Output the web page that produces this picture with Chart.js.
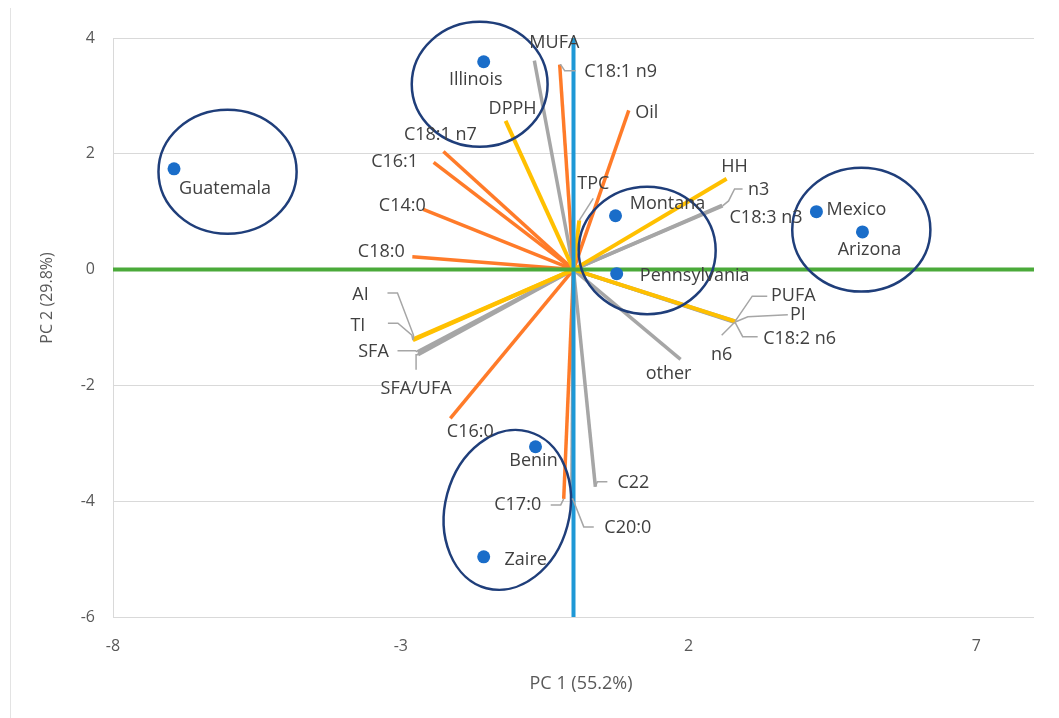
<!DOCTYPE html>
<html>
<head>
<meta charset="utf-8">
<script src="https://cdn.jsdelivr.net/npm/chart.js@4.4.0/dist/chart.umd.min.js"></script>
<style>
  html, body { margin: 0; padding: 0; background: #fff; }
  #wrap { width: 1059px; height: 718px; }
</style>
</head>
<body>
<div id="wrap"><canvas id="pcaChart" width="1059" height="718"></canvas></div>
<script>
// PCA biplot - sample scores and variable loadings

// axes
const xMin = -8, xMax = 8;
const yMin = -6, yMax = 4;
const xTicks = [-8, -3, 2, 7];
const yTicks = [-6, -4, -2, 0, 2, 4];

// sample scores
const sampleNames = ['Guatemala', 'Illinois', 'Montana', 'Pennsylvania', 'Mexico', 'Arizona', 'Benin', 'Zaire'];
const sampleX = [-6.94, -1.56, 0.73, 0.75, 4.22, 5.02, -0.66, -1.56];
const sampleY = [1.74, 3.59, 0.93, -0.07, 1.00, 0.65, -3.06, -4.96];

// loadings (vectors from origin)
const loadingNames = ['MUFA', 'C18:1 n9', 'Oil', 'DPPH', 'C18:1 n7', 'C16:1', 'C14:0', 'C18:0',
  'C16:0', 'C17:0', 'HH', 'TPC', 'AI', 'TI', 'PI', 'SFA', 'SFA/UFA', 'other', 'C22', 'C20:0',
  'PUFA', 'C18:2 n6', 'n6', 'n3', 'C18:3 n3'];
const loadingX = [-0.68, -0.24, 0.96, -1.18, -2.26, -2.43, -2.61, -2.80,
  -2.14, -0.17, 2.66, 0.10, -2.78, -2.79, 2.82, -2.71, -2.70, 1.86, 0.38, -0.03,
  2.81, 2.80, 2.80, 2.59, 2.58];
const loadingY = [3.61, 3.54, 2.75, 2.57, 2.04, 1.85, 1.04, 0.22,
  -2.57, -3.96, 1.57, 0.85, -1.20, -1.22, -0.90, -1.42, -1.47, -1.55, -3.75, -3.96,
  -0.89, -0.90, -0.91, 1.10, 1.11];
const loadingGroup = ['g', 'o', 'o', 'y', 'o', 'o', 'o', 'o',
  'o', 'o', 'y', 'y', 'y', 'y', 'y', 'g', 'g', 'g', 'g', 'g',
  'g', 'g', 'g', 'g', 'g'];

// group ellipses (centre and radii in axis units, rotation in degrees)
const groupEllipses = [
  { cx: -6.01, cy: 1.69, rx: 1.20, ry: 1.07, rot: 0 },
  { cx: -1.63, cy: 3.20, rx: 1.18, ry: 1.08, rot: 0 },
  { cx: 1.28, cy: 0.33, rx: 1.19, ry: 1.10, rot: 0 },
  { cx: 5.00, cy: 0.69, rx: 1.20, ry: 1.07, rot: 0 },
  { cx: -1.15, cy: -4.15, rx: 1.08, ry: 1.40, rot: 15 }
];

// label placement (pixel offsets from the mark)
const sampleLabelOffset = {
  'Guatemala': [51, 20], 'Illinois': [-8, 18], 'Montana': [52, -12], 'Pennsylvania': [78, 2],
  'Mexico': [40, -2], 'Arizona': [7, 18], 'Benin': [-2, 14], 'Zaire': [42, 3]
};
const loadingLabelOffset = {
  'MUFA': [20, -18], 'C18:1 n9': [61, 7], 'Oil': [18, 2], 'DPPH': [7, -12], 'C18:1 n7': [-3, -17],
  'C16:1': [-39, -1], 'C14:0': [-21, -4], 'C18:0': [-31, -5], 'C16:0': [20, 13], 'C17:0': [-46, 6],
  'HH': [8, -12], 'TPC': [14, -37], 'AI': [-53, -44], 'TI': [-55, -14], 'PI': [62, -7],
  'SFA': [-44, 0], 'SFA/UFA': [-2, 34], 'other': [-12, 15], 'C22': [38, -4], 'C20:0': [56, 29],
  'PUFA': [58, -25], 'C18:2 n6': [65, 17], 'n6': [-13, 33], 'n3': [36, -16], 'C18:3 n3': [44, 13]
};
const leaderLines = {
  'C18:1 n9': [[1, 0], [5, 6], [16, 6]],
  'C17:0': [[-3, 6], [-13, 6]],
  'TPC': [[14, -22]],
  'AI': [[0, -4], [-16, -46], [-26, -46]],
  'TI': [[-1, -5], [-15, -17], [-25, -17]],
  'PI': [[12, -5], [52, -7]],
  'SFA': [[-2, -1], [-20, -1]],
  'SFA/UFA': [[-2, 0], [-2, 15]],
  'C22': [[2, -5], [12, -5]],
  'C20:0': [[1, 0], [12, 28], [22, 28]],
  'PUFA': [[17, -25], [32, -25]],
  'C18:2 n6': [[8, 15], [23, 15]],
  'n6': [[-13, 13]],
  'n3': [[6, -5], [12, -17], [20, -17]]
};

const groupColor = { o: '#FF7B29', y: '#FFC000', g: '#A6A6A6' };
const groupOrder = { y: 3, o: 4, g: 5 };
const labelFont = '18px "Open Sans", sans-serif';

const datasets = [];
datasets.push({
  label: 'samples',
  data: sampleX.map((v, i) => ({ x: v, y: sampleY[i] })),
  showLine: false,
  pointRadius: 6.5,
  pointBackgroundColor: '#1A6DC9',
  pointBorderWidth: 0,
  order: 0
});
datasets.push({
  label: 'pc1 axis',
  data: [{ x: xMin, y: 0 }, { x: xMax, y: 0 }],
  showLine: true, pointRadius: 0, borderColor: '#4BAA3A', borderWidth: 4, order: 1
});
datasets.push({
  label: 'pc2 axis',
  data: [{ x: 0, y: yMin }, { x: 0, y: yMax }],
  showLine: true, pointRadius: 0, borderColor: '#1E98D6', borderWidth: 4, order: 2
});
loadingNames.forEach((name, i) => {
  const g = loadingGroup[i];
  datasets.push({
    label: name,
    data: [{ x: 0, y: 0 }, { x: loadingX[i], y: loadingY[i] }],
    showLine: true,
    pointRadius: 0,
    borderColor: groupColor[g],
    borderWidth: g === 'y' ? 4 : 3.5,
    order: groupOrder[g]
  });
});

const overlayPlugin = {
  id: 'overlay',
  beforeDraw(chart) {
    const ctx = chart.ctx;
    ctx.save();
    ctx.fillStyle = '#fff';
    ctx.fillRect(0, 0, chart.width, chart.height);
    ctx.strokeStyle = '#E3E3E3';
    ctx.lineWidth = 1;
    ctx.beginPath();
    ctx.moveTo(10.5, 8);
    ctx.lineTo(10.5, chart.height);
    ctx.stroke();
    ctx.restore();
  },
  afterDatasetsDraw(chart) {
    const ctx = chart.ctx;
    const xs = chart.scales.x, ys = chart.scales.y;
    const pxUnitX = Math.abs(xs.getPixelForValue(1) - xs.getPixelForValue(0));
    const pxUnitY = Math.abs(ys.getPixelForValue(1) - ys.getPixelForValue(0));
    ctx.save();

    // ellipses
    ctx.strokeStyle = '#1F3E7A';
    ctx.lineWidth = 2.5;
    groupEllipses.forEach(e => {
      ctx.beginPath();
      ctx.ellipse(xs.getPixelForValue(e.cx), ys.getPixelForValue(e.cy),
        e.rx * pxUnitX, e.ry * pxUnitY, e.rot * Math.PI / 180, 0, Math.PI * 2);
      ctx.stroke();
    });

    // leader lines
    ctx.strokeStyle = '#A6A6A6';
    ctx.lineWidth = 1.5;
    loadingNames.forEach((name, i) => {
      const pts = leaderLines[name];
      if (!pts) return;
      const px = xs.getPixelForValue(loadingX[i]);
      const py = ys.getPixelForValue(loadingY[i]);
      ctx.beginPath();
      ctx.moveTo(px, py);
      pts.forEach(p => ctx.lineTo(px + p[0], py + p[1]));
      ctx.stroke();
    });

    // labels
    ctx.font = labelFont;
    ctx.fillStyle = '#404040';
    ctx.textAlign = 'center';
    ctx.textBaseline = 'middle';
    loadingNames.forEach((name, i) => {
      const off = loadingLabelOffset[name] || [0, 0];
      ctx.fillText(name, xs.getPixelForValue(loadingX[i]) + off[0], ys.getPixelForValue(loadingY[i]) + off[1]);
    });
    sampleNames.forEach((name, i) => {
      const off = sampleLabelOffset[name] || [0, 0];
      ctx.fillText(name, xs.getPixelForValue(sampleX[i]) + off[0], ys.getPixelForValue(sampleY[i]) + off[1]);
    });

    // axis titles
    ctx.fillStyle = '#595959';
    ctx.font = '18px "Open Sans", sans-serif';
    ctx.fillText('PC 1 (55.2%)', 581, 684);
    ctx.font = '16px "Open Sans", sans-serif';
    ctx.translate(47, 298);
    ctx.rotate(-Math.PI / 2);
    ctx.fillText('PC 2 (29.8%)', 0, 0);
    ctx.restore();
  }
};

const chart = new Chart(document.getElementById('pcaChart').getContext('2d'), {
  type: 'scatter',
  data: { datasets: datasets },
  options: {
    responsive: false,
    animation: false,
    layout: { padding: { left: 0, right: 25, top: 38, bottom: 0 } },
    plugins: { legend: { display: false }, tooltip: { enabled: false } },
    scales: {
      x: {
        type: 'linear',
        min: xMin,
        max: xMax,
        afterBuildTicks: s => { s.ticks = xTicks.map(v => ({ value: v })); },
        afterFit: s => { s.height = 101; },
        grid: { display: false, drawTicks: false },
        border: { display: false },
        ticks: { color: '#595959', font: { family: 'Open Sans', size: 16 }, padding: 20, maxRotation: 0 }
      },
      y: {
        type: 'linear',
        min: yMin,
        max: yMax,
        afterBuildTicks: s => { s.ticks = yTicks.map(v => ({ value: v })); },
        afterFit: s => { s.width = 113; },
        grid: { color: '#D9D9D9', lineWidth: 1, drawTicks: false },
        border: { display: true, color: '#D9D9D9' },
        ticks: { color: '#595959', font: { family: 'Open Sans', size: 16 }, padding: 18 }
      }
    }
  },
  plugins: [overlayPlugin]
});
</script>
</body>
</html>
